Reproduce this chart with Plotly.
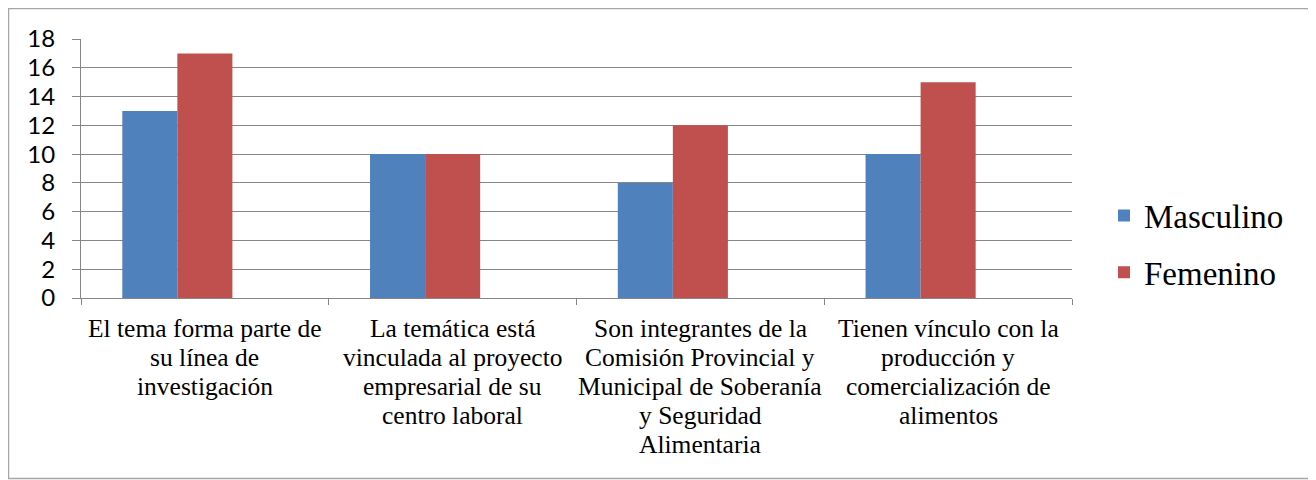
import plotly.graph_objects as go

categories = [
    "El tema forma parte de<br>su línea de<br>investigación",
    "La temática está<br>vinculada al proyecto<br>empresarial de su<br>centro laboral",
    "Son integrantes de la<br>Comisión Provincial y<br>Municipal de Soberanía<br>y Seguridad<br>Alimentaria",
    "Tienen vínculo con la<br>producción y<br>comercialización de<br>alimentos",
]
masculino = [13, 10, 8, 10]
femenino = [17, 10, 12, 15]
y_ticks = list(range(0, 19, 2))

SERIF = "Liberation Serif"

W, H = 1316, 480
OFF = 8  # page body margin
L, T = 81 - OFF, 39 - OFF
R = W - (1072 - OFF)
B = H - (298 - OFF)
pw, ph = W - L - R, H - T - B

fig = go.Figure()
fig.add_trace(go.Bar(x=categories, y=masculino, name="Masculino",
                     marker=dict(color="#4F81BD", line=dict(width=0)),
                     width=0.2222, offset=-0.3333, legendgroup="m"))
fig.add_trace(go.Bar(x=categories, y=femenino, name="Femenino",
                     marker=dict(color="#C0504D", line=dict(width=0)),
                     width=0.2222, offset=-0.1111, legendgroup="f"))

# category labels, one annotation per line for tight line spacing
LABEL_SIZE = 25.5
LINE_GAP = 29
FIRST_CENTER = 30  # px below the axis
for cat in categories:
    for i, line in enumerate(cat.split("<br>")):
        fig.add_annotation(x=cat, y=0, xref="x", yref="paper",
                           text=line, showarrow=False,
                           xanchor="center", yanchor="middle",
                           yshift=-(FIRST_CENTER + i * LINE_GAP),
                           font=dict(family=SERIF, size=LABEL_SIZE, color="#000000"))

def px_x(p):
    return (p - OFF - L) / pw

def px_y(p):
    return (H - B - (p - OFF)) / ph

fig.add_shape(type="rect", xref="paper", yref="paper",
              x0=px_x(8.5), x1=px_x(1322), y0=px_y(478.5), y1=px_y(8.5),
              line=dict(color="#A6A6A6", width=1.5), layer="below")

fig.update_layout(
    template="none",
    font=dict(family=SERIF, color="#000000"),
    width=W, height=H,
    margin=dict(l=L, r=R, t=T, b=B, pad=0, autoexpand=False),
    paper_bgcolor="white", plot_bgcolor="white",
    barmode="overlay",
    showlegend=True,
    legend=dict(x=px_x(1104), y=px_y(244), xanchor="left", yanchor="middle",
                font=dict(family=SERIF, size=33, color="#000000"),
                traceorder="grouped", tracegroupgap=11,
                bgcolor="rgba(0,0,0,0)"),
    xaxis=dict(
        type="category",
        showline=True, linecolor="#868686", linewidth=1,
        ticks="outside", tickson="boundaries", ticklen=6, tickcolor="#868686",
        showgrid=False,
        showticklabels=False,
    ),
    yaxis=dict(
        range=[0, 18], tickvals=y_ticks,
        showline=True, linecolor="#868686", linewidth=1,
        ticks="outside", ticklen=8, tickcolor="#868686",
        showgrid=True, gridcolor="#868686", gridwidth=1,
        zeroline=False,
        tickfont=dict(family="Lato", size=24, color="#000000"),
        ticklabelstandoff=12,
    ),
)

fig.write_html("out.html")
